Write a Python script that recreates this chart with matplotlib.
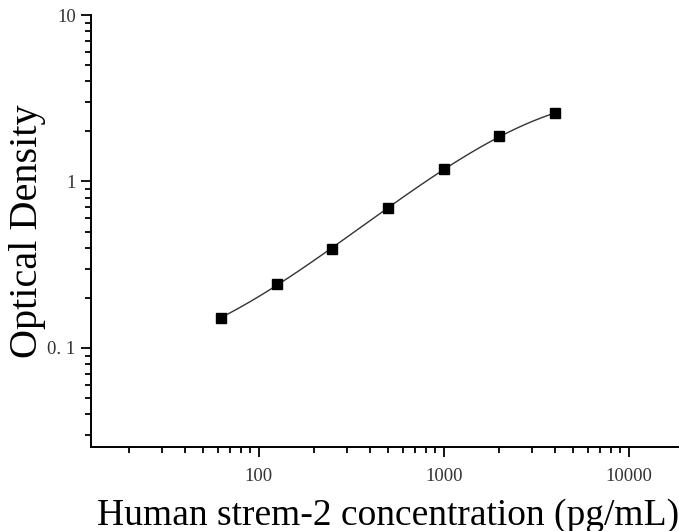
import numpy as np
import matplotlib
matplotlib.use("Agg")
import matplotlib.pyplot as plt
from matplotlib.ticker import LogLocator, FixedLocator, NullFormatter

concentration = [62.5, 125, 250, 500, 1000, 2000, 4000]
optical_density = [0.151, 0.243, 0.394, 0.691, 1.186, 1.863, 2.572]
x_ticks = [100, 1000, 10000]
x_tick_labels = ["100", "1000", "10000"]
y_ticks = [0.1, 1, 10]
y_tick_labels = ["0. 1", "1", "10"]

plt.rcParams['font.family'] = ['Liberation Serif', 'DejaVu Serif']

fig = plt.figure(figsize=(6.79, 5.31), dpi=100)
ax = fig.add_axes([91/679, 1-447/531, (684.4-91)/679, (447-15)/531])

# smooth fitted curve (cubic fit in log-log space)
lx = np.log10(concentration)
ly = np.log10(optical_density)
coef = np.polyfit(lx, ly, 3)
xs = np.linspace(lx.min(), lx.max(), 300)
ax.plot(10**xs, 10**np.polyval(coef, xs), color='#333333', lw=1.0, zorder=2)
ax.plot(concentration, optical_density, 's', color='black', ms=7.5, zorder=3)

ax.set_xscale('log')
ax.set_yscale('log')
ax.set_xlim(12.4, 20000)
ax.set_ylim(0.0254, 10)

ax.xaxis.set_major_locator(FixedLocator(x_ticks))
ax.set_xticklabels(x_tick_labels)
ax.yaxis.set_major_locator(FixedLocator(y_ticks))
ax.set_yticklabels(y_tick_labels)
ax.xaxis.set_minor_locator(LogLocator(base=10, subs=np.arange(2, 10)))
ax.yaxis.set_minor_locator(LogLocator(base=10, subs=np.arange(2, 10)))
ax.xaxis.set_minor_formatter(NullFormatter())
ax.yaxis.set_minor_formatter(NullFormatter())

for s in ['top', 'right']:
    ax.spines[s].set_visible(False)
for s in ['left', 'bottom']:
    ax.spines[s].set_linewidth(1.4)
    ax.spines[s].set_color('black')

ax.tick_params(which='major', direction='out', length=7, width=1.3, labelsize=13.5,
               labelcolor='#333333')
ax.tick_params(axis='x', which='major', pad=8)
ax.tick_params(axis='y', which='major', pad=4)
ax.tick_params(which='minor', direction='out', length=4.5, width=1.3)

ax.set_xlabel('Human strem-2 concentration (pg/mL)', fontsize=27, labelpad=10)
ax.set_ylabel('Optical Density', fontsize=29, labelpad=1)

fig.savefig('out.png', dpi=100)
